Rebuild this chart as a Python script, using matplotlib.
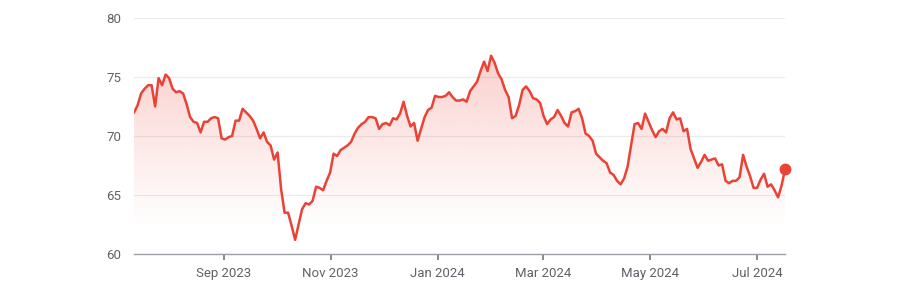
import numpy as np
import pandas as pd
import matplotlib
matplotlib.use("Agg")
from matplotlib import pyplot as plt
import matplotlib.dates as mdate

# price series, evenly spaced from 12 Jul 2023 to 17 Jul 2024
start_date = "2023-07-12"
end_date = "2024-07-17"
prices = [
    72.0, 72.6, 73.6, 74.0, 74.3, 74.3, 72.5, 74.9, 74.3, 75.2,
    74.9, 74.0, 73.7, 73.8, 73.6, 72.7, 71.6, 71.2, 71.1, 70.3,
    71.2, 71.2, 71.5, 71.6, 71.5, 69.8, 69.7, 69.9, 70.0, 71.3,
    71.3, 72.3, 72.0, 71.7, 71.3, 70.6, 69.8, 70.3, 69.5, 69.2,
    68.0, 68.6, 65.5, 63.5, 63.5, 62.4, 61.2, 62.5, 63.8, 64.3,
    64.2, 64.5, 65.7, 65.6, 65.4, 66.2, 66.9, 68.5, 68.3, 68.8,
    69.0, 69.2, 69.5, 70.2, 70.7, 71.0, 71.2, 71.6, 71.6, 71.5,
    70.6, 71.0, 71.1, 70.9, 71.5, 71.4, 71.9, 72.9, 71.7, 70.8,
    71.1, 69.6, 70.6, 71.6, 72.2, 72.4, 73.4, 73.3, 73.3, 73.4,
    73.7, 73.3, 73.0, 73.0, 73.1, 72.9, 73.8, 74.2, 74.6, 75.5,
    76.3, 75.5, 76.8, 76.2, 75.3, 74.8, 73.9, 73.3, 71.5, 71.7,
    72.6, 73.9, 74.2, 73.8, 73.2, 73.1, 72.8, 71.7, 71.0, 71.4,
    71.6, 72.2, 71.7, 71.1, 70.8, 72.0, 72.1, 72.3, 71.5, 70.2,
    70.0, 69.6, 68.5, 68.2, 67.9, 67.7, 66.9, 66.7, 66.2, 65.9,
    66.4, 67.4, 69.2, 71.0, 71.1, 70.6, 71.9, 71.2, 70.5, 69.9,
    70.4, 70.6, 70.3, 71.5, 72.0, 71.4, 71.5, 70.4, 70.6, 68.9,
    68.1, 67.3, 67.8, 68.4, 67.9, 68.0, 68.1, 67.5, 67.6, 66.2,
    66.0, 66.2, 66.2, 66.5, 68.4, 67.4, 66.6, 65.6, 65.6, 66.3,
    66.8, 65.7, 65.9, 65.4, 64.8, 65.8, 67.2,
]
y_ticks = [60, 65, 70, 75, 80]
x_ticks = ["2023-09-01", "2023-11-01", "2024-01-01", "2024-03-01", "2024-05-01", "2024-07-01"]

dates = pd.date_range(start_date, end_date, periods=len(prices))
prices = np.array(prices)

red = "#ea4335"
grey = "#5f6368"

plt.rcParams["font.family"] = ["Roboto", "DejaVu Sans"]

fig = plt.figure(figsize=(9, 2.99), dpi=100)
ax = fig.add_axes([0.149, 0.1505, 0.7233, 0.7895])

x = mdate.date2num(dates)

# gradient fill under the line, strongest at the top
grad = np.zeros((256, 1, 4))
grad[:, 0, 0:3] = matplotlib.colors.to_rgb(red)
grad[:, 0, 3] = np.linspace(0.3, 0.0, 256) ** 1.1
img = ax.imshow(grad, aspect="auto", extent=[x[0], x[-1], 62.0, 77.5],
                origin="upper", zorder=1, interpolation="bilinear")
poly = ax.fill_between(x, prices, 60, color="none", lw=0)
img.set_clip_path(poly.get_paths()[0], transform=ax.transData)

ax.set_xlim(x[0], x[-1])
ax.set_ylim(60, 80)

ax.plot(x, prices, color=red, lw=1.8, zorder=3, solid_joinstyle="round")
ax.plot(x[-1], prices[-1], "o", color=red, ms=7.5, zorder=4, clip_on=False)

ax.set_yticks(y_ticks)
ax.set_xticks(mdate.date2num(pd.to_datetime(x_ticks)))
ax.xaxis.set_major_formatter(mdate.DateFormatter("%b %Y"))
ax.grid(axis="y", color="#ebebeb", lw=0.9, zorder=0)
ax.set_axisbelow(True)

for s in ["top", "right", "left"]:
    ax.spines[s].set_visible(False)
ax.spines["bottom"].set_color("#9aa0a6")
ax.spines["bottom"].set_linewidth(1.0)

ax.tick_params(axis="y", length=0, pad=9, labelsize=9.5, labelcolor=grey)
ax.tick_params(axis="x", length=4, width=1.2, color="#70757a", pad=5,
               labelsize=9.5, labelcolor=grey)

fig.savefig("out.png", dpi=100, facecolor="white")
